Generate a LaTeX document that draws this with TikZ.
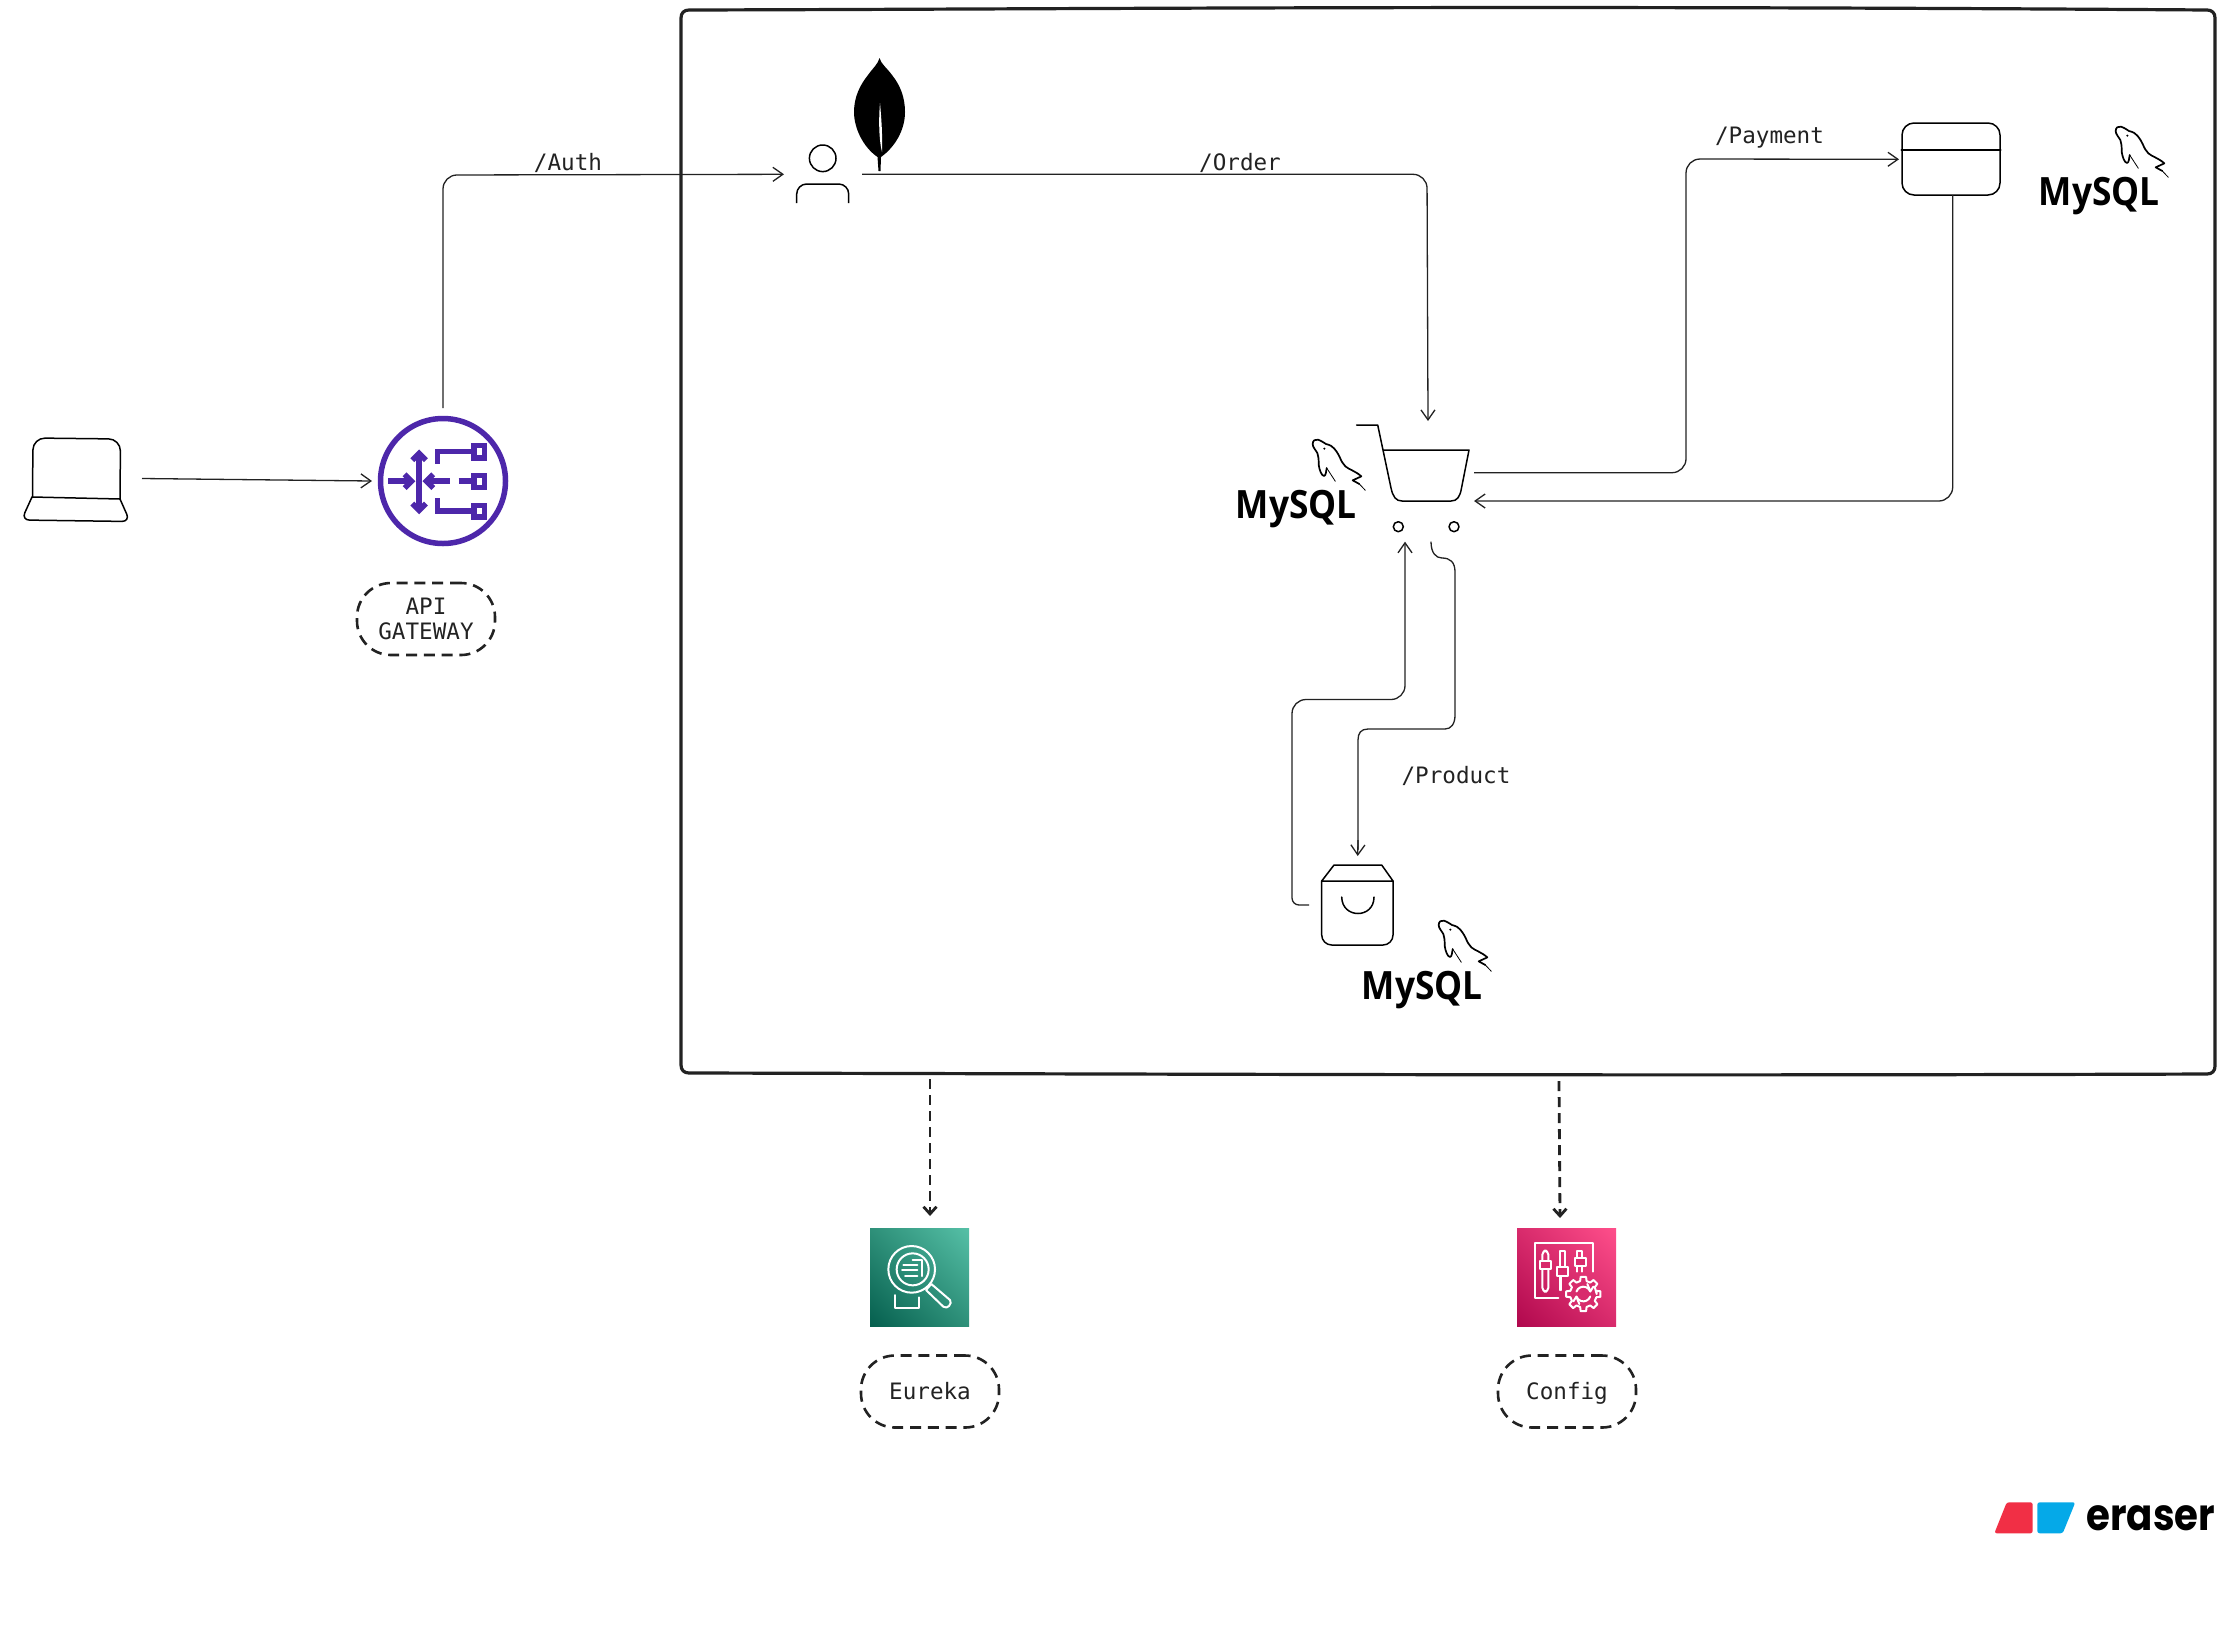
\documentclass[tikz,border=0pt]{standalone}
\usepackage{fontspec}
\usepackage{graphicx}
\usetikzlibrary{arrows.meta,calc,shadings}
\setmainfont{DejaVu Sans Mono}
\newfontfamily\mysqlfont{Open Sans}
\newfontfamily\eraserfont{Poppins}
\definecolor{ink}{HTML}{222222}
\definecolor{gwpurple}{HTML}{4D27AA}
\definecolor{HTMLeurekamid}{HTML}{2E9079}
\definecolor{HTMLeurekatop}{HTML}{56C0A7}
\definecolor{HTMLeurekalow}{HTML}{055F4E}
\definecolor{HTMLconfigmid}{HTML}{D82B6C}
\definecolor{HTMLconfigtop}{HTML}{FF4F8B}
\definecolor{HTMLconfiglow}{HTML}{B0084D}
\definecolor{HTMLerred}{HTML}{F12F45}
\definecolor{HTMLerblue}{HTML}{05A9E8}
\newcommand{\labelrule}{\rule[-3pt]{0pt}{14pt}}
\tikzset{
  icon/.style={line width=.75pt,draw=black,line join=round,line cap=round},
  conn/.style={line width=.65pt,draw=ink,rounded corners=7pt,-{Straight Barb[length=5pt,width=7pt,line width=.65pt]}},
  plain conn/.style={line width=.65pt,draw=ink,rounded corners=7pt},
  dep/.style={line width=1.4pt,draw=ink,dash pattern=on 5pt off 3pt,-{Straight Barb[length=3.6pt,width=6.5pt,line width=1.4pt]}},
  blob/.style={draw=ink,line width=1.3pt,dash pattern=on 5.5pt off 3.4pt,rounded corners=17pt,minimum width=69pt,minimum height=36pt,align=center,inner sep=0pt,font=\fontsize{11.3}{12.4}\selectfont,text=ink},
  route/.style={font=\fontsize{11.3}{13}\selectfont,text=ink,inner sep=0pt},
  whiteicon/.style={draw=white,line width=1pt,line join=round,line cap=round},
  gwline/.style={draw=gwpurple,line width=2.75pt,line join=miter},
  pics/mysql/.style={code={
    \node[anchor=base west,inner sep=0pt,xscale=.905] at (-1.5,0) {\fontsize{19.5}{20}\mysqlfont\bfseries MySQL};
    \begin{scope}[x=.16667pt,y=-.16667pt,shift={(195,-255)}]
      \draw[line width=.85pt,line join=round,line cap=round,black]
        (74,105) .. controls (72,115) and (72,128) .. (66,129) .. controls (58,128) and (52,110) .. (50,95)
        .. controls (50,80) and (50,70) .. (46,60) .. controls (40,50) and (32,42) .. (32,33)
        .. controls (32,22) and (40,18) .. (48,20) .. controls (60,24) and (66,30) .. (72,33)
        .. controls (84,36) and (92,40) .. (97,47) .. controls (106,58) and (110,66) .. (113,72)
        .. controls (118,84) and (122,92) .. (130,100) .. controls (140,109) and (160,114) .. (178,130)
        -- (152,142) -- (172,153);
      \draw[line width=.4pt,line cap=round,black] (172,153) -- (190,172);
      \draw[line width=.4pt,line cap=round,black] (74,105) -- (100,145);
      \fill[black] (67,47) circle (3.5);
    \end{scope}
  }}
}
\begin{document}
\begin{tikzpicture}[x=.5pt,y=-.5pt]
\useasboundingbox (0,0) rectangle (2225,1628);
\fill[white] (0,0) rectangle (2225,1628);

% outer frame
\draw[draw=ink,line width=1.6pt,line join=round]
  (689,10) .. controls (1100,9) and (1500,5) .. (2207,10)
  .. controls (2212,10) and (2215,13) .. (2215,18)
  -- (2215,1066) .. controls (2215,1071) and (2212,1074) .. (2207,1074)
  .. controls (1600,1076) and (1200,1074) .. (689,1073)
  .. controls (684,1073) and (681,1070) .. (681,1065)
  -- (681,18) .. controls (681,13) and (684,10) .. (689,10) -- cycle;

% laptop
\draw[icon,rounded corners=6pt] (32.5,497) -- (33,438) -- (120.5,439) -- (120,499);
\draw[icon] (32,497) -- (120,499);
\draw[icon,rounded corners=4pt] (32,497) -- (21.5,520) -- (130,521.5) -- (120,499);
\coordinate (laptopOut) at (142,478.5);

% gateway icon
\node[circle,draw=gwpurple,line width=2.75pt,minimum size=62.5pt,inner sep=0pt] (gateway) at (443,481) {};
\begin{scope}[shift={(0,397.5)},x=.1722pt,y=-.1722pt]
  \draw[gwline] (1217,170) -- (1217,320);
  \draw[gwline] (1197,182) -- (1217,162) -- (1237,182);
  \draw[gwline] (1197,308) -- (1217,328) -- (1237,308);
  \draw[gwline] (1127,243) -- (1190,243);
  \draw[gwline] (1175,223) -- (1195,243) -- (1175,263);
  \draw[gwline] (1245,243) -- (1307,243);
  \draw[gwline] (1258,223) -- (1238,243) -- (1258,263);
  \draw[gwline] (1332,243) -- (1375,243);
  \draw[gwline] (1270,193) -- (1270,157) -- (1375,157);
  \draw[gwline] (1270,293) -- (1270,330) -- (1375,330);
  \draw[gwline] (1376,140) rectangle (1407,175);
  \draw[gwline] (1376,226) rectangle (1407,262);
  \draw[gwline] (1376,313) rectangle (1407,347);
\end{scope}
\coordinate (gatewayIn) at (372,481);
\coordinate (gatewayTop) at (443,408);
\node[blob] (gatewaylabel) at (426,619) {API\\GATEWAY};

% user service
\draw[icon] (822.7,158.3) circle (13.3);
\draw[icon,rounded corners=5pt,line cap=butt] (796.7,203) -- (796.7,184) -- (848.7,184) -- (848.7,203);
\coordinate (userIn) at (784,174.3);
\coordinate (userOut) at (862,174.3);

% MongoDB leaf
\fill[black] (879.5,58) .. controls (881,64) and (887,68) .. (892,75)
  .. controls (900,85) and (905,97) .. (905,112)
  .. controls (905,130) and (895,147) .. (881,157) -- (880.5,171) -- (878.5,171) -- (877.5,157)
  .. controls (863,147) and (854,128) .. (854,112)
  .. controls (854,97) and (860,85) .. (868,75)
  .. controls (873,68) and (878,64) .. (879.5,58) -- cycle;
\fill[white] (880,103) .. controls (878.5,120) and (879,140) .. (882,152)
  .. controls (882.5,135) and (881.5,120) .. (880,103) -- cycle;

% cart
\draw[icon] (1356.7,425) -- (1377.7,425) -- (1391,488)
  .. controls (1393,497) and (1396,501) .. (1402,501) -- (1451,501)
  .. controls (1457,501) and (1460,497) .. (1461.5,488) -- (1469,450) -- (1383,450);
\draw[icon] (1398.3,526.7) circle (5);
\draw[icon] (1454,526.7) circle (5);
\coordinate (cartTop) at (1428,421);
\coordinate (cartOut) at (1474,472.7);
\coordinate (cartIn) at (1474,501);
\coordinate (cartBottomIn) at (1405,541.7);
\coordinate (cartBottomOut) at (1431,541.7);

% payment card
\node[draw=black,line width=.75pt,rounded corners=6pt,minimum width=49pt,minimum height=36pt,inner sep=0pt] (card) at (1951,159) {};
\draw[icon] (card.west |- 0,150) -- (card.east |- 0,150);
\coordinate (cardIn) at (1899,159.3);
\coordinate (cardOut) at (1952.7,195);

% product bag
\draw[icon,rounded corners=5pt] (1321.7,881) -- (1321.7,945) -- (1393,945) -- (1393,881);
\draw[icon] (1321.7,881) -- (1393,881) -- (1381.7,865) -- (1334,865) -- cycle;
\draw[icon] (1341.7,897) .. controls (1342,919) and (1374,919) .. (1374,897);
\coordinate (bagIn) at (1357.7,856);
\coordinate (bagOut) at (1309,905);

% MySQL logos
\pic at (1237,518) {mysql};
\pic at (2040,205) {mysql};
\pic at (1363,999) {mysql};

% connectors
\draw[conn] (laptopOut) -- (gatewayIn);
\draw[conn] (gatewayTop) -- (443,175) -- (userIn);
\draw[conn] (userOut) -- (1427,174.3) -- (cartTop);
\draw[conn] (cartOut) -- (1686,472.7) -- (1686,159) -- (cardIn);
\draw[conn] (cardOut) -- (1952.7,501) -- (cartIn);
\draw[conn] (bagOut) [rounded corners=3.5pt] -- (1292,905) [rounded corners=7pt] -- (1292,699.5) -- (1405,699.5) -- (cartBottomIn);
\draw[plain conn,rounded corners=0pt] (cartBottomOut) .. controls (1431,553) and (1436,558) .. (1442,558) .. controls (1450,558) and (1455,562) .. (1455,572) -- (1455,715) .. controls (1455,724) and (1451,729) .. (1445,729) -- (1368,729) .. controls (1361,729) and (1358,733) .. (1358,740) -- (1358,850);
\draw[conn,rounded corners=0pt] (1358,840) -- (bagIn);

% route labels
\node[route] (authlabel) at (568,163) {/Auth};
\node[route] (orderlabel) at (1240,163) {/Order};
\node[route] (paymentlabel) at (1769.5,138) {/Payment};
\node[route] (productlabel) at (1456,776) {/Product};

% Eureka
\shade[upper left=HTMLeurekamid,upper right=HTMLeurekatop,lower left=HTMLeurekalow,lower right=HTMLeurekamid] (870,1228) rectangle (969,1326);
\begin{scope}[shift={(840,1210)},x=.16667pt,y=-.16667pt]
  \draw[whiteicon] (215,178) circle (70);
  \draw[whiteicon] (218,178) circle (48);
  \draw[whiteicon] (218,150) -- (245,150) -- (245,198);
  \draw[whiteicon] (190,165) -- (232,165);
  \draw[whiteicon] (186,180) -- (232,180);
  \draw[whiteicon] (195,197) -- (232,197);
  \draw[whiteicon] (258,240) -- (274,222) -- (330,270) .. controls (338,280) and (322,300) .. (310,290) -- cycle;
  \draw[whiteicon] (165,255) -- (165,295) -- (237,295) -- (237,262);
\end{scope}
\node[blob] (eurekalabel) at (930,1391.5) {\labelrule Eureka};

% Config
\shade[upper left=HTMLconfigmid,upper right=HTMLconfigtop,lower left=HTMLconfiglow,lower right=HTMLconfigmid] (1517,1228) rectangle (1616,1326);
\begin{scope}[shift={(1490,1210)},x=.16667pt,y=-.16667pt]
  \draw[whiteicon] (308,185) -- (308,98) -- (135,98) -- (135,265) -- (205,265);
  \draw[whiteicon,rounded corners=2pt] (157,122) rectangle (175,245);
  \draw[whiteicon,fill=HTMLconfigmid] (150,152) rectangle (182,178);
  \draw[whiteicon] (210,240) -- (210,122) -- (226,122) -- (226,172);
  \draw[whiteicon,fill=HTMLconfigmid] (202,172) rectangle (234,198);
  \draw[whiteicon] (212,198) -- (212,240);
  \draw[whiteicon] (261,143) -- (261,122) -- (277,122) -- (277,143);
  \draw[whiteicon,fill=HTMLconfigmid] (255,143) rectangle (288,168);
  \draw[whiteicon] (261,168) -- (261,185);
  \draw[whiteicon] (277,168) -- (277,185);
  \begin{scope}[shift={(280,252)}]
    \draw[whiteicon,fill=HTMLconfigmid] (0:40) \foreach \a in {0,45,...,315} { -- (\a-14:40) -- (\a-9:52) -- (\a+9:52) -- (\a+14:40) } -- cycle;
    \draw[whiteicon] (20:22) arc[start angle=20,end angle=160,radius=22];
    \draw[whiteicon] (200:22) arc[start angle=200,end angle=340,radius=22];
    \draw[whiteicon] (12,-30) -- (21,-8) -- (30,-22);
    \draw[whiteicon] (-12,30) -- (-21,8) -- (-30,22);
  \end{scope}
\end{scope}
\node[blob] (configlabel) at (1567,1391.5) {\labelrule Config};

% dashed dependencies
\coordinate (frameEureka) at (930,1079);
\coordinate (frameConfig) at (1559,1081);
\coordinate (eurekaTop) at (930,1216);
\coordinate (configTop) at (1560,1218);
\draw[dep] (frameEureka) -- (eurekaTop);
\draw[dep] (frameConfig) -- (configTop);

% eraser logo
\fill[HTMLerred,rounded corners=1.2pt] (2006.7,1502.3) -- (2032.7,1502.3) -- (2032.7,1533.3) -- (1994.3,1533.3) -- cycle;
\fill[HTMLerblue,rounded corners=1.2pt] (2037.3,1502.3) -- (2075.3,1502.3) -- (2062.7,1533.3) -- (2037.3,1533.3) -- cycle;
\node[anchor=base west,inner sep=0pt,text=black,xscale=.88] (eraserword) at (2086,1530) {\fontsize{22}{24}\eraserfont\bfseries eraser};
\end{tikzpicture}
\end{document}
